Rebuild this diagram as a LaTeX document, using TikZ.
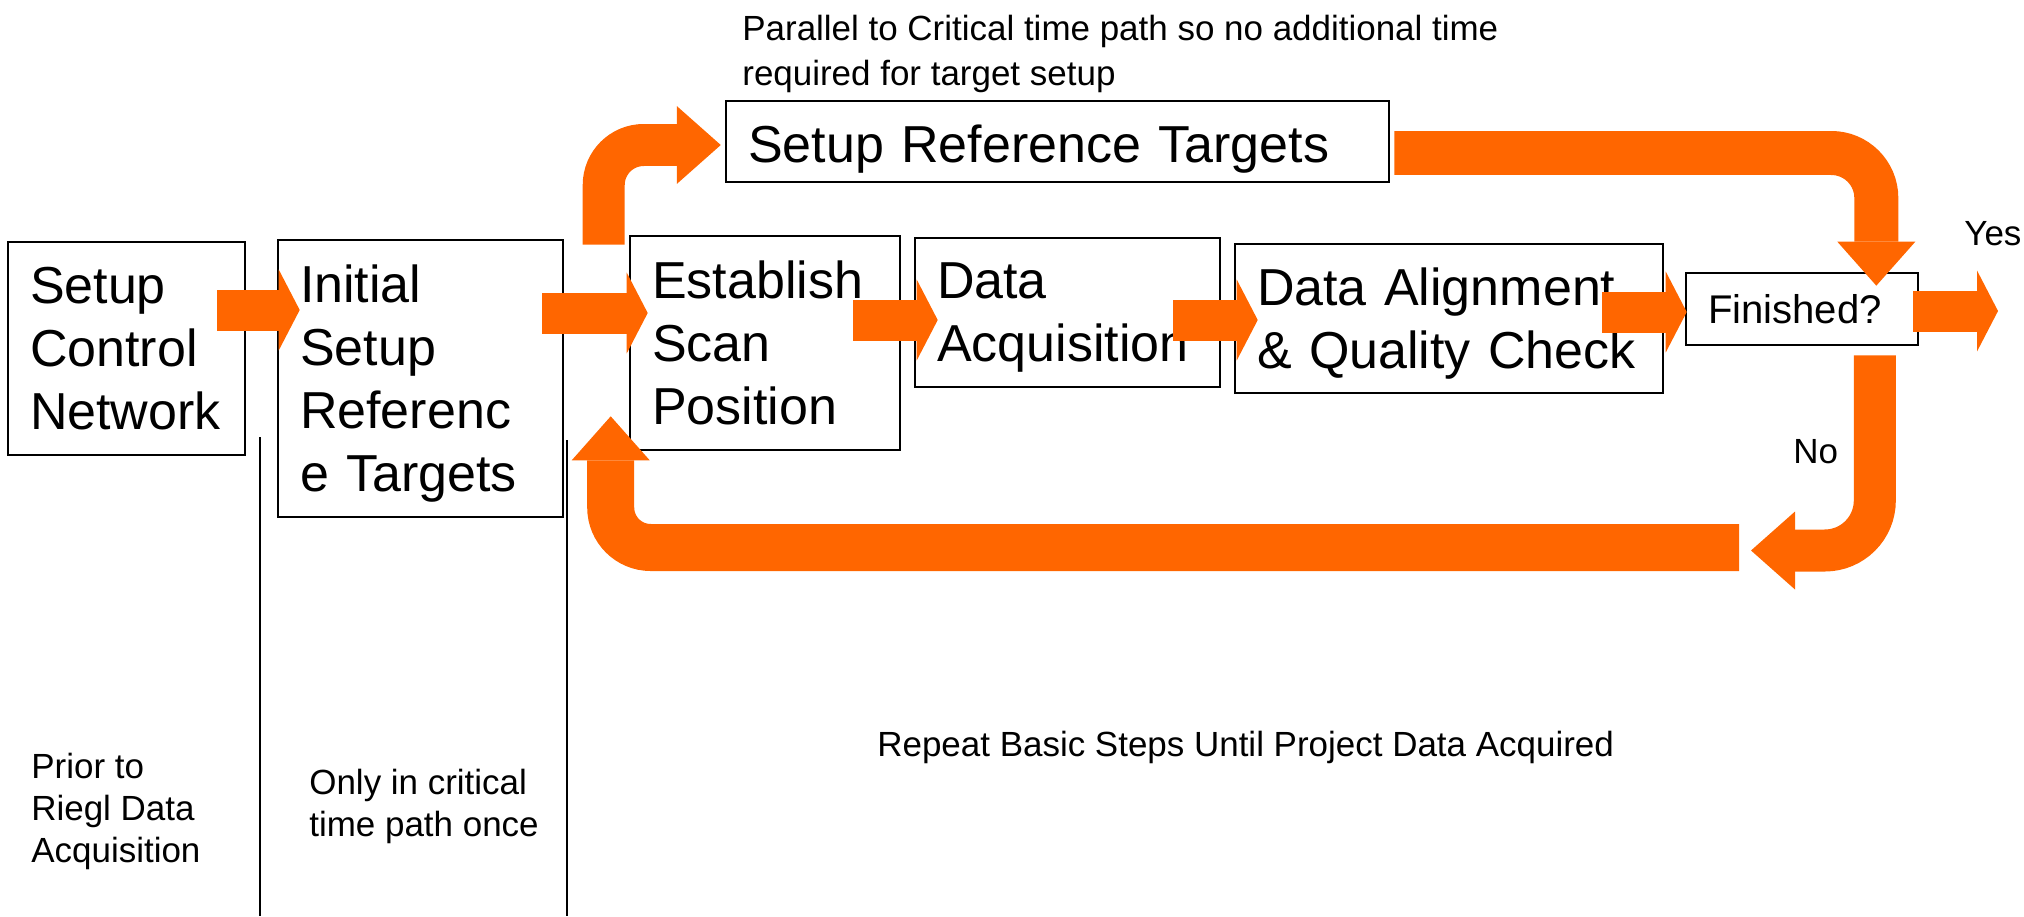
\documentclass[tikz,border=0pt]{standalone}
\usepackage{fontspec}
\setmainfont{Liberation Sans}
\usepackage{tikz}
\usetikzlibrary{arrows.meta,positioning,calc}
\definecolor{flowor}{RGB}{255,102,0}
\newcommand{\steptxt}{\fontsize{29.6}{35.8}\selectfont}
\newcommand{\asktxt}{\fontsize{22.8}{27.4}\selectfont}
\newcommand{\notetxt}{\fontsize{19.9}{23.9}\selectfont}
\tikzstyle{stepbox} = [draw, rectangle, line width=1.5pt, align=left, inner xsep=0.44cm, inner ysep=0pt, font=\steptxt]
\tikzstyle{notetext} = [align=left, inner sep=0pt, font=\notetxt]
\tikzstyle{flowarrow} = [draw=flowor, line width=0.82cm, -{Triangle[length=0.42cm, width=1.62cm, line width=0pt]}]
\tikzstyle{bentarrow} = [draw=flowor, line width=0.84cm, rounded corners=0.8cm, -{Triangle[length=0.88cm, width=1.56cm, line width=0pt]}]
\tikzstyle{divider} = [draw, line width=1.3pt]

\begin{document}
\begin{tikzpicture}[x=0.02cm, y=-0.02cm]
    \useasboundingbox (0,0) rectangle (2024,916);

    \node [stepbox, text width=3.86cm, minimum height=4.26cm] (ctrl) at (126.5,348.5) {Setup\\Control\\Network};
    \node [stepbox, text width=4.82cm, minimum height=5.54cm] (init) at (420.5,378.5) {Initial\\Setup\\Referenc\\\smash{e~Targets}};
    \node [stepbox, text width=4.52cm, minimum height=4.28cm] (scan) at (765,343) {Establish\\Scan\\Position};
    \node [stepbox, text width=5.22cm, minimum height=2.98cm] (acq) at (1067.5,312.5) {Data\\\smash{Acquisition}};
    \node [stepbox, text width=7.68cm, minimum height=2.98cm] (qual) at (1449,318.5) {Data~Alignment\\\smash{\&~Quality~Check}};
    \node [stepbox, text width=12.38cm, text height=0.86cm, text depth=0pt, minimum height=1.62cm] (targ) at (1057.5,141.5) {Setup~Reference~Targets};
    \node [stepbox, font=\asktxt, text width=3.76cm, minimum height=1.44cm] (fin) at (1802,309) {Finished?};

    \node [notetext, font=\fontsize{19.9}{25.6}\selectfont, anchor=base west] (para) at (742,85) {Parallel to Critical time path so no additional time\\required for target setup};
    \node [notetext, anchor=base west] (prior) at (31,862) {Prior to\\Riegl Data\\Acquisition};
    \node [notetext, anchor=base west] (once) at (309,836) {Only in critical\\time path once};
    \node [notetext, anchor=base west] (rep) at (877,756) {Repeat Basic Steps Until Project Data Acquired};
    \node [notetext, anchor=base west] (no) at (1793,463) {No};
    \node [notetext, anchor=base west] (yes) at (1964,245) {Yes};

    \coordinate (yesend) at (1998,311);
    \coordinate (notip) at (1751,550.5);
    \coordinate (barend) at (1739,547.5);

    \path [divider] (260,437) -- (260,916);
    \path [divider] (567,440) -- (567,916);

    \path [flowarrow] ([xshift=-0.58cm]ctrl.east |- 0,310) -- ([xshift=0.46cm]init.west |- 0,310);
    \path [flowarrow] ([xshift=-0.44cm]init.east |- 0,313) -- ([xshift=0.38cm]scan.west |- 0,313);
    \path [flowarrow] ([xshift=-0.96cm]scan.east |- 0,320) -- ([xshift=0.48cm]acq.west |- 0,320);
    \path [flowarrow] ([xshift=-0.96cm]acq.east |- 0,320) -- ([xshift=0.48cm]qual.west |- 0,320);
    \path [flowarrow] ([xshift=-1.24cm]qual.east |- 0,312) -- ([xshift=0.04cm]fin.west |- 0,312);
    \path [flowarrow] ([xshift=-0.12cm]fin.east |- 0,311) -- (yesend);

    \path [bentarrow] ([xshift=-0.5cm,yshift=-0.2cm]scan.north west) |- ([xshift=-0.08cm]targ.west |- 0,145);
    \path [bentarrow, line width=0.88cm, rounded corners=0.9cm] ([xshift=0.08cm]targ.east |- 0,153) -| ([xshift=-0.86cm,yshift=-0.28cm]fin.north east);
    \path [bentarrow, rounded corners=1.0cm] ([xshift=-0.89cm,yshift=-0.18cm]fin.south east) |- (notip);
    \path [bentarrow, line width=0.94cm] (barend) -| ([xshift=-0.36cm,yshift=0.7cm]scan.south west);
\end{tikzpicture}
\end{document}
